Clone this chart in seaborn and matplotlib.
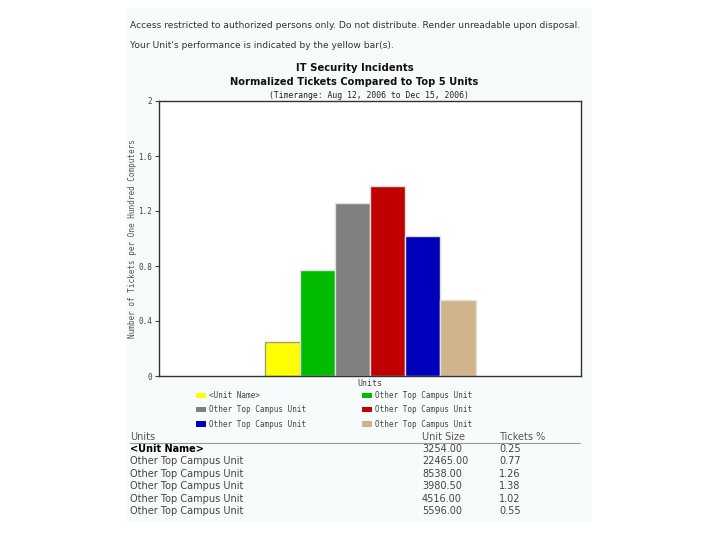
import matplotlib
matplotlib.use("Agg")
import matplotlib.pyplot as plt
import matplotlib.patches as mpatches
import seaborn as sns
import pandas as pd

# ---- data ----
units = ["<Unit Name>", "Other Top Campus Unit", "Other Top Campus Unit",
         "Other Top Campus Unit", "Other Top Campus Unit", "Other Top Campus Unit"]
unit_keys = ["u0", "u1", "u2", "u3", "u4", "u5"]
unit_size = ["3254.00", "22465.00", "8538.00", "3980.50", "4516.00", "5596.00"]
tickets = [0.25, 0.77, 1.26, 1.38, 1.02, 0.55]
bar_colors = ["#ffff00", "#00bb00", "#808080", "#c00000", "#0000bb", "#d2b48c"]
y_ticks = [0, 0.4, 0.8, 1.2, 1.6, 2]
y_tick_labels = ["0", "0.4", "0.8", "1.2", "1.6", "2"]
category = "Units"

sns.set_theme(style="white")
plt.rcParams['font.family'] = ['DejaVu Sans']

df = pd.DataFrame({"cat": [category] * len(units), "key": unit_keys, "tickets": tickets})

fig = plt.figure(figsize=(7.2, 5.4), dpi=100)
fig.patch.set_facecolor("white")

# faint page panel
panel = mpatches.Rectangle((126 / 720, 1 - 522 / 540), (592 - 126) / 720, (522 - 8) / 540,
                           transform=fig.transFigure, facecolor="#f7fbfb", edgecolor="none", zorder=-10)
fig.patches.append(panel)

ax = fig.add_axes([159 / 720, 1 - 376 / 540, (581 - 159) / 720, (376 - 101) / 540])
sns.barplot(data=df, x="cat", y="tickets", hue="key", palette=bar_colors,
            width=0.5, legend=False, ax=ax, edgecolor="#e0e0e0", linewidth=1, saturation=1)
for p in ax.patches:
    if p.get_facecolor()[:3] == (1.0, 1.0, 0.0):
        p.set_edgecolor("#a0a080")

ax.set_facecolor("white")
ax.set_xlim(-0.5, 0.5)
ax.set_ylim(0, 2)
ax.set_yticks(y_ticks)
ax.set_yticklabels(y_tick_labels, family="DejaVu Sans Mono", fontsize=5.5, color="#444444")
ax.tick_params(axis="y", left=True, length=3, width=0.8, color="#444444", pad=2)
ax.tick_params(axis="x", bottom=False, length=0, pad=2)
for lab in ax.get_xticklabels():
    lab.set_family("DejaVu Sans Mono")
    lab.set_fontsize(6)
    lab.set_color("#444444")
ax.set_xlabel("")
ax.set_ylabel("Number of Tickets per One Hundred Computers", family="DejaVu Sans Mono",
              fontsize=5.5, color="#555555", labelpad=1)
for s in ax.spines.values():
    s.set_visible(True)
    s.set_color("#333333")
    s.set_linewidth(1)

# titles
fig.text(130 / 720, 1 - 26 / 540, "Access restricted to authorized persons only. Do not distribute. Render unreadable upon disposal.",
         fontsize=6.6, color="#333333", va="center", ha="left")
fig.text(130 / 720, 1 - 45 / 540, "Your Unit's performance is indicated by the yellow bar(s).",
         fontsize=6.6, color="#333333", va="center", ha="left")
fig.text(355 / 720, 1 - 68 / 540, "IT Security Incidents", fontsize=7.3, weight="bold",
         color="#111111", ha="center", va="center")
fig.text(354 / 720, 1 - 82 / 540, "Normalized Tickets Compared to Top 5 Units", fontsize=7.1, weight="bold",
         color="#111111", ha="center", va="center")
fig.text(369 / 720, 1 - 95 / 540, "(Timerange: Aug 12, 2006 to Dec 15, 2006)", family="DejaVu Sans Mono",
         fontsize=5.9, color="#222222", ha="center", va="center")

# legend (column-wise fill -> reorder)
handles = [mpatches.Patch(facecolor=c, edgecolor="none") for c in bar_colors]
order = [0, 2, 4, 1, 3, 5]
leg = fig.legend([handles[i] for i in order], [units[i] for i in order], ncol=2,
                 loc="upper left", bbox_to_anchor=(196 / 720, 1 - 391 / 540),
                 frameon=False, prop={"family": "DejaVu Sans Mono", "size": 5.5},
                 handlelength=1.3, handleheight=0.7, handletextpad=0.4,
                 columnspacing=7.3, labelspacing=0.7, borderaxespad=0, borderpad=0)
for t in leg.get_texts():
    t.set_color("#444444")

# table
xc = [130 / 720, 422 / 720, 499 / 720]
hy = 1 - 437 / 540
fig.text(xc[0], hy, "Units", fontsize=7, color="#555555", va="center")
fig.text(xc[1], hy, "Unit Size", fontsize=7, color="#555555", va="center")
fig.text(xc[2], hy, "Tickets %", fontsize=7, color="#555555", va="center")
fig.add_artist(plt.Line2D([130 / 720, 580 / 720], [1 - 443 / 540, 1 - 443 / 540],
                          transform=fig.transFigure, color="#999999", lw=0.8))
row_y = [449, 461.5, 474, 486, 498.5, 511]
for i, (u, sz, tk) in enumerate(zip(units, unit_size, tickets)):
    y = 1 - row_y[i] / 540
    col = "#000000" if i == 0 else "#444444"
    w = "bold" if i == 0 else "normal"
    fig.text(xc[0], y, u, fontsize=7, color=col, weight=w, va="center")
    fig.text(xc[1], y, sz, fontsize=7, color="#444444", va="center")
    fig.text(xc[2], y, f"{tk:.2f}", fontsize=7, color="#444444", va="center")

fig.savefig("out.png", dpi=100, facecolor="white")
